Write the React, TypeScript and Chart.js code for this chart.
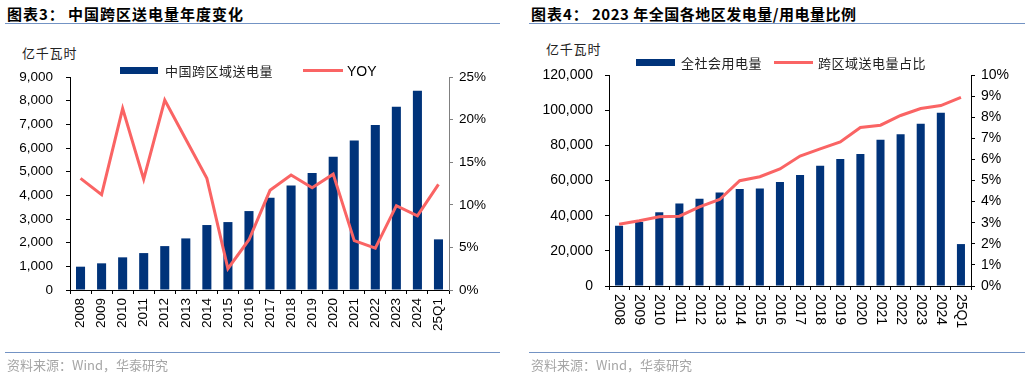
import React, { useEffect, useRef } from 'react';
import { Chart, registerables } from 'chart.js';

Chart.register(...registerables);

const categories = ['2008', '2009', '2010', '2011', '2012', '2013', '2014', '2015', '2016', '2017', '2018', '2019', '2020', '2021', '2022', '2023', '2024', '25Q1'];

// 图表3
const crossRegionVolume = [985, 1127, 1380, 1560, 1855, 2180, 2745, 2870, 3335, 3900, 4420, 4940, 5630, 6320, 6970, 7740, 8420, 2140];
const crossRegionYoy = [13.1, 11.2, 21.3, 13.0, 22.3, 17.7, 13.1, 2.5, 5.9, 11.7, 13.5, 12.0, 13.6, 5.8, 4.9, 9.9, 8.7, 12.4];

// 图表4
const totalConsumption = [34268, 36430, 41923, 46928, 49591, 53223, 55233, 55500, 59198, 63077, 68449, 72255, 75110, 83128, 86372, 92241, 98521, 23846];
const crossRegionShare = [2.93, 3.09, 3.28, 3.31, 3.75, 4.1, 4.99, 5.18, 5.55, 6.16, 6.5, 6.83, 7.51, 7.62, 8.08, 8.41, 8.55, 8.94];

const leftYTicks = { min: 0, max: 9000, step: 1000 };
const leftY1Ticks = { min: 0, max: 25, step: 5 };
const rightYTicks = { min: 0, max: 120000, step: 20000 };
const rightY1Ticks = { min: 0, max: 10, step: 1 };

const NAVY = '#00337A';
const RED = '#FA6464';
const LATIN = '"Liberation Sans", Arial, sans-serif';
const CJK = '"Noto Sans CJK SC", "Liberation Sans", sans-serif';

const fmt = (v: any) => Number(v).toLocaleString('en-US');

function LeftChart() {
  const ref = useRef<HTMLCanvasElement>(null);
  useEffect(() => {
    const chart = new Chart(ref.current!, {
      type: 'bar',
      data: {
        labels: categories,
        datasets: [
          { type: 'line', label: 'YOY', data: crossRegionYoy, yAxisID: 'y1', borderColor: RED, backgroundColor: RED, borderWidth: 3, pointRadius: 0, tension: 0, order: 0 } as any,
          { type: 'bar', label: '中国跨区域送电量', data: crossRegionVolume, yAxisID: 'y', backgroundColor: NAVY, barPercentage: 0.43, categoryPercentage: 1, order: 1 } as any,
        ],
      },
      options: {
        responsive: false,
        animation: false,
        events: [],
        layout: { padding: { left: 10, right: 11, top: 77, bottom: 27 } },
        plugins: { legend: { display: false }, tooltip: { enabled: false } },
        scales: {
          x: {
            grid: { display: true, drawOnChartArea: false, tickLength: 4, color: '#000', offset: true },
            border: { color: '#000' },
            ticks: { minRotation: 90, maxRotation: 90, autoSkip: false, padding: 4, color: '#000', font: { family: LATIN, size: 13.5 } },
            afterFit: (s: any) => { s.height = 60; },
          },
          y: {
            position: 'left', min: leftYTicks.min, max: leftYTicks.max,
            grid: { drawOnChartArea: false, tickLength: 4, color: '#000' },
            border: { color: '#000' },
            ticks: { stepSize: leftYTicks.step, padding: 13, color: '#000', font: { family: LATIN, size: 13.5 }, callback: fmt },
            afterFit: (s: any) => { s.width = 60; },
          },
          y1: {
            position: 'right', min: leftY1Ticks.min, max: leftY1Ticks.max,
            grid: { drawOnChartArea: false, tickLength: 4, color: '#808080' },
            border: { color: '#808080' },
            ticks: { stepSize: leftY1Ticks.step, padding: 6, color: '#000', font: { family: LATIN, size: 13.5 }, callback: (v: any) => v + '%' },
            afterFit: (s: any) => { s.width = 50; },
          },
        },
      } as any,
    });
    return () => chart.destroy();
  }, []);
  return <canvas ref={ref} width={510} height={377} style={{ position: 'absolute', left: 0, top: 0 }} />;
}

const downLabels = {
  id: 'downLabels',
  afterDraw(chart: any) {
    const scale = chart.scales.x;
    const ctx = chart.ctx;
    ctx.save();
    ctx.fillStyle = '#000';
    ctx.font = `14px ${LATIN}`;
    ctx.textAlign = 'left';
    ctx.textBaseline = 'middle';
    const labels = chart.data.labels as string[];
    labels.forEach((lab, i) => {
      const x = scale.getPixelForTick(i);
      const y = scale.top + 8;
      ctx.save();
      ctx.translate(x, y);
      ctx.rotate(Math.PI / 2);
      ctx.fillText(lab, 0, 0);
      ctx.restore();
    });
    ctx.restore();
  },
};

function RightChart() {
  const ref = useRef<HTMLCanvasElement>(null);
  useEffect(() => {
    const chart = new Chart(ref.current!, {
      type: 'bar',
      data: {
        labels: categories,
        datasets: [
          { type: 'line', label: '跨区域送电量占比', data: crossRegionShare, yAxisID: 'y1', borderColor: RED, backgroundColor: RED, borderWidth: 3, pointRadius: 0, tension: 0, order: 0 } as any,
          { type: 'bar', label: '全社会用电量', data: totalConsumption, yAxisID: 'y', backgroundColor: NAVY, barPercentage: 0.4, categoryPercentage: 1, order: 1 } as any,
        ],
      },
      options: {
        responsive: false,
        animation: false,
        events: [],
        layout: { padding: { left: 14, right: 9, top: 75, bottom: 31 } },
        plugins: { legend: { display: false }, tooltip: { enabled: false } },
        scales: {
          x: {
            grid: { display: true, drawOnChartArea: false, tickLength: 4, color: '#000', offset: true },
            border: { color: '#000' },
            ticks: { display: false, autoSkip: false },
            afterFit: (s: any) => { s.height = 60; },
          },
          y: {
            position: 'left', min: rightYTicks.min, max: rightYTicks.max,
            grid: { drawOnChartArea: false, tickLength: 4, color: '#000' },
            border: { color: '#000' },
            ticks: { stepSize: rightYTicks.step, padding: 12, color: '#000', font: { family: LATIN, size: 14 }, callback: fmt },
            afterFit: (s: any) => { s.width = 75; },
          },
          y1: {
            position: 'right', min: rightY1Ticks.min, max: rightY1Ticks.max,
            grid: { drawOnChartArea: false, tickLength: 4, color: '#000' },
            border: { color: '#000' },
            ticks: { stepSize: rightY1Ticks.step, padding: 6, color: '#000', font: { family: LATIN, size: 14 }, callback: (v: any) => v + '%' },
            afterFit: (s: any) => { s.width = 50; },
          },
        },
      } as any,
      plugins: [downLabels],
    });
    return () => chart.destroy();
  }, []);
  return <canvas ref={ref} width={510} height={377} style={{ position: 'absolute', left: 520, top: 0 }} />;
}

const abs = (left: number, top: number, extra: any = {}): any => ({ position: 'absolute', left, top, whiteSpace: 'pre', margin: 0, ...extra });

function Txt({ left, cy, size, font, color = '#000', bold = false, ls = 0, children }: any) {
  return (
    <div style={abs(left, cy - size / 2, { fontSize: size, lineHeight: `${size}px`, fontFamily: font, color, fontWeight: bold ? 700 : 400, letterSpacing: ls })}>
      {children}
    </div>
  );
}

function Box({ left, top, w, h, color }: any) {
  return <div style={abs(left, top, { width: w, height: h, background: color })} />;
}

export default function App() {
  return (
    <div style={{ position: 'absolute', left: 0, top: 0, width: 1030, height: 377, background: '#fff', overflow: 'hidden' }}>
      {/* Left panel */}
      <Txt left={7} cy={13} size={15} font={CJK} bold ls={1}>图表3：</Txt>
      <Txt left={68} cy={13} size={15} font={CJK} bold ls={1}>中国跨区送电量年度变化</Txt>
      <Box left={5} top={23} w={495} h={1} color="#7393C4" />
      <Txt left={22} cy={52} size={13} font={CJK} color="#222" ls={0.8}>亿千瓦时</Txt>
      <LeftChart />
      <Box left={120} top={67} w={38} h={7} color={NAVY} />
      <Txt left={165} cy={70.5} size={13} font={CJK} color="#222" ls={0.5}>中国跨区域送电量</Txt>
      <Box left={303} top={69} w={40} h={3} color={RED} />
      <Txt left={347} cy={70.5} size={14} font={LATIN}>YOY</Txt>
      <Box left={5} top={352} w={495} h={1} color="#7393C4" />
      <Txt left={7} cy={364} size={13} font={CJK} color="#A6A6A6">资料来源：Wind，华泰研究</Txt>

      {/* Right panel */}
      <Txt left={531} cy={13} size={15} font={CJK} bold ls={1}>图表4：</Txt>
      <Txt left={592} cy={13} size={15} font={CJK} bold ls={0.5}>2023 年全国各地区发电量/用电量比例</Txt>
      <Box left={529} top={23} w={496} h={1} color="#7393C4" />
      <Txt left={546} cy={48} size={13} font={CJK} color="#222" ls={0.8}>亿千瓦时</Txt>
      <RightChart />
      <Box left={636} top={59} w={39} h={7} color={NAVY} />
      <Txt left={681} cy={62.5} size={13} font={CJK} color="#222" ls={0.5}>全社会用电量</Txt>
      <Box left={774} top={61} w={39} h={3} color={RED} />
      <Txt left={818} cy={62.5} size={13} font={CJK} color="#222" ls={0.5}>跨区域送电量占比</Txt>
      <Box left={529} top={352} w={496} h={1} color="#7393C4" />
      <Txt left={531} cy={364} size={13} font={CJK} color="#A6A6A6">资料来源：Wind，华泰研究</Txt>
    </div>
  );
}
